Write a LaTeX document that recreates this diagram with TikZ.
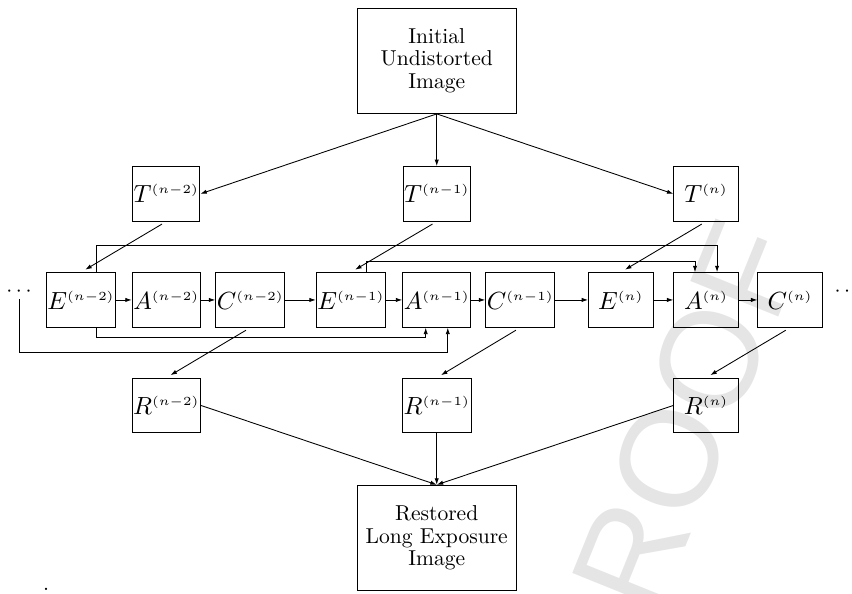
\documentclass[tikz,border=0pt]{standalone}
\usepackage{fix-cm}
\usepackage{fontspec}
\usetikzlibrary{arrows.meta}
\newfontfamily\wmfont{Liberation Sans}

\begin{document}
\begin{tikzpicture}[>={Latex[length=3pt,width=2pt]},
		smallbox/.style = {draw, minimum width=1.05cm, minimum height=0.89cm, inner sep=0.5pt, font=\fontsize{11.5}{14}\selectfont},
		bigbox/.style = {draw, align=center, minimum width=2.6cm, minimum height=1.72cm, font=\fontsize{10}{10.5}\selectfont},
		spaced/.style = {shorten <=2.3pt, shorten >=2.3pt}]
		\useasboundingbox (0,0) rectangle (13.89, 9.67);
		\clip (0,0) rectangle (13.89, 9.67);
		
		\node[rotate=68, text=black!10, font=\wmfont\fontsize{64}{64}\selectfont] (proof) at (10.92, 2.18) {PROOF};
		
		\node[bigbox] (init) at (7.12, 8.68) {Initial\\Undistorted\\Image};
		\node[bigbox] (restored) at (7.12, 0.90) {Restored\\Long Exposure\\Image};
		
		\node[smallbox] (Tn2) at (2.71, 6.51) {$T^{\scriptscriptstyle(n-2)}$};
		\node[smallbox] (Tn1) at (7.12, 6.51) {$T^{\scriptscriptstyle(n-1)}$};
		\node[smallbox] (Tn) at (11.51, 6.51) {$T^{\scriptscriptstyle(n)}$};
		
		\node[smallbox] (En2) at (1.32, 4.78) {$E^{\scriptscriptstyle(n-2)}$};
		\node[smallbox] (An2) at (2.71, 4.78) {$A^{\scriptscriptstyle(n-2)}$};
		\node[smallbox] (Cn2) at (4.08, 4.78) {$C^{\scriptscriptstyle(n-2)}$};
		\node[smallbox] (En1) at (5.72, 4.78) {$E^{\scriptscriptstyle(n-1)}$};
		\node[smallbox] (An1) at (7.12, 4.78) {$A^{\scriptscriptstyle(n-1)}$};
		\node[smallbox] (Cn1) at (8.48, 4.78) {$C^{\scriptscriptstyle(n-1)}$};
		\node[smallbox] (En) at (10.12, 4.78) {$E^{\scriptscriptstyle(n)}$};
		\node[smallbox] (An) at (11.51, 4.78) {$A^{\scriptscriptstyle(n)}$};
		\node[smallbox] (Cn) at (12.88, 4.78) {$C^{\scriptscriptstyle(n)}$};
		
		\node[anchor=south, inner sep=1pt] (dotsL) at (0.31, 4.79) {$\cdots$};
		\node[anchor=south, inner sep=1pt] (dotsR) at (13.81, 4.79) {$\cdots$};
		
		\node[smallbox] (Rn2) at (2.71, 3.06) {$R^{\scriptscriptstyle(n-2)}$};
		\node[smallbox] (Rn1) at (7.12, 3.06) {$R^{\scriptscriptstyle(n-1)}$};
		\node[smallbox] (Rn) at (11.51, 3.06) {$R^{\scriptscriptstyle(n)}$};
		
		\node[anchor=south, inner sep=0pt] (stop) at (0.75, 0.03) {.};
		
		\draw[->] (init.south) -- (Tn2.east);
		\draw[->] (init.south) -- (Tn1.north);
		\draw[->] (init.south) -- (Tn.west);
		
		\draw[->, spaced] (Tn2.south) -- (En2.north);
		\draw[->, spaced] (Tn1.south) -- (En1.north);
		\draw[->, spaced] (Tn.south) -- (En.north);
		
		\draw[->] (En2) -- (An2);
		\draw[->] (An2) -- (Cn2);
		\draw[->] (Cn2) -- (En1);
		\draw[->] (En1) -- (An1);
		\draw[->] (An1) -- (Cn1);
		\draw[->] (Cn1) -- (En);
		\draw[->] (En) -- (An);
		\draw[->] (An) -- (Cn);
		
		\draw[->] ([xshift=0.26cm]En2.north) -- ++(0,0.43) -| ([xshift=0.18cm]An.north);
		\draw[->] ([xshift=0.26cm]En1.north) -- ++(0,0.17) -| ([xshift=-0.18cm]An.north);
		\draw[->] ([xshift=0.26cm]En2.south) -- ++(0,-0.16) -| ([xshift=-0.18cm]An1.south);
		\draw[->] (dotsL.south) -- ++(0,-0.86) -| ([xshift=0.18cm]An1.south);
		
		\draw[->, spaced] (Cn2.south) -- (Rn2.north);
		\draw[->, spaced] (Cn1.south) -- (Rn1.north);
		\draw[->, spaced] (Cn.south) -- (Rn.north);
		
		\draw[->] (Rn2.east) -- (restored.north);
		\draw[->] (Rn1.south) -- (restored.north);
		\draw[->] (Rn.west) -- (restored.north);
	\end{tikzpicture}
\end{document}
